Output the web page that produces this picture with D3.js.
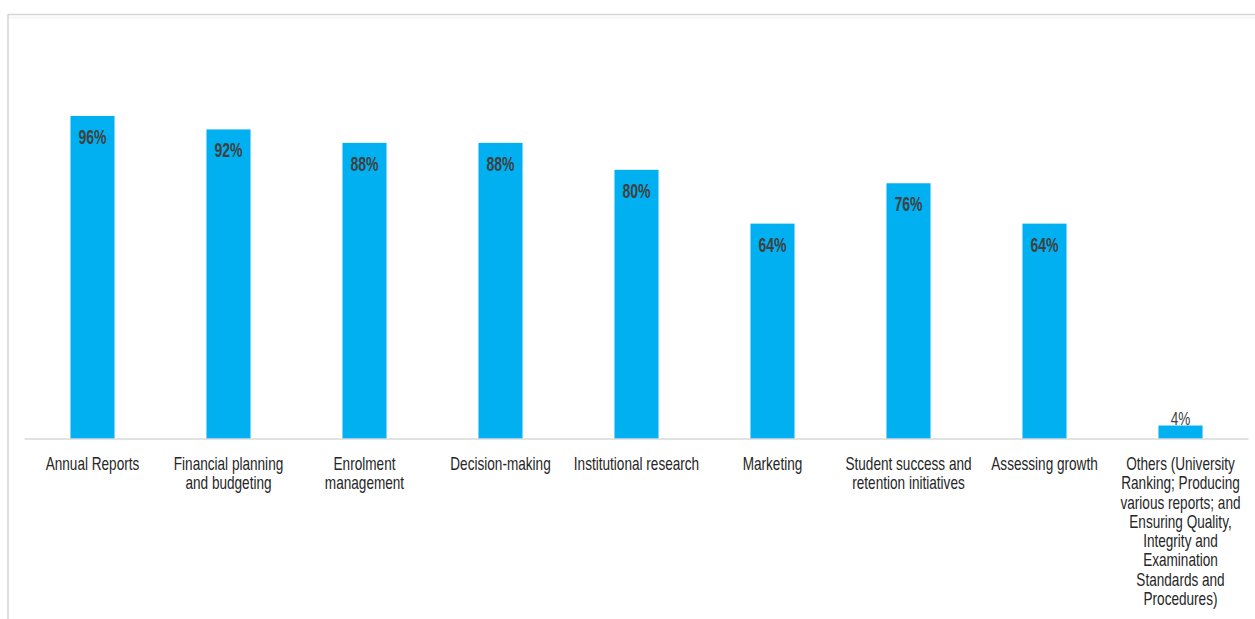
<!DOCTYPE html>
<html>
<head>
<meta charset="utf-8">
<script src="https://cdn.jsdelivr.net/npm/d3@7"></script>
<style>
  body { margin: 0; background: #fff; }
  svg { display: block; }
</style>
</head>
<body>
<div class="canvas"></div>
<script>
// chart data
const categories = [
  'Annual Reports',
  'Financial planning\nand budgeting',
  'Enrolment\nmanagement',
  'Decision-making',
  'Institutional research',
  'Marketing',
  'Student success and\nretention initiatives',
  'Assessing growth',
  'Others (University\nRanking; Producing\nvarious reports; and\nEnsuring Quality,\nIntegrity and\nExamination\nStandards and\nProcedures)'
];
const values = [96, 92, 88, 88, 80, 64, 76, 64, 4];
const valueLabels = ['96%', '92%', '88%', '88%', '80%', '64%', '76%', '64%', '4%'];

// dimensions
const width = 1255;
const height = 619;
const margin = { top: 102.5, left: 24.5, right: 6.5, bottom: 180 };
const graphWidth = width - margin.left - margin.right;
const graphHeight = height - margin.top - margin.bottom;

// no narrow font installed, so squeeze the regular one horizontally
const font = '"Liberation Sans", Arial, sans-serif';

const svg = d3.select('.canvas')
  .append('svg')
  .attr('width', width)
  .attr('height', height);

// outer frame (top + left border)
svg.append('line')
  .attr('x1', 8).attr('x2', width)
  .attr('y1', 14.5).attr('y2', 14.5)
  .attr('stroke', '#d6d6d6')
  .attr('stroke-width', 1.6);
svg.append('line')
  .attr('x1', 8).attr('x2', width)
  .attr('y1', 17.5).attr('y2', 17.5)
  .attr('stroke', '#f6f6f6')
  .attr('stroke-width', 2);
svg.append('line')
  .attr('x1', 8).attr('x2', 8)
  .attr('y1', 14).attr('y2', height)
  .attr('stroke', '#d6d6d6')
  .attr('stroke-width', 1.6);

const graph = svg.append('g')
  .attr('transform', `translate(${margin.left}, ${margin.top})`);

// scales
const x = d3.scaleBand()
  .domain(categories)
  .range([0, graphWidth])
  .paddingInner(0.676)
  .paddingOuter(0.338);
const y = d3.scaleLinear()
  .domain([0, 100])
  .range([graphHeight, 0]);

// bars
graph.selectAll('rect.bar')
  .data(values)
  .enter()
  .append('rect')
  .attr('class', 'bar')
  .attr('x', (d, i) => x(categories[i]))
  .attr('y', d => y(d))
  .attr('width', x.bandwidth())
  .attr('height', d => graphHeight - y(d))
  .attr('fill', '#00b0f0');

// x axis
const xAxis = d3.axisBottom(x).tickSize(0).tickPadding(0).tickFormat('');
const xAxisGroup = graph.append('g')
  .attr('transform', `translate(0, ${graphHeight})`)
  .call(xAxis);
xAxisGroup.select('.domain')
  .attr('stroke', '#d9d9d9')
  .attr('stroke-width', 1.6)
  .attr('d', `M0,0H${graphWidth}`);

// category labels, split on line breaks
xAxisGroup.selectAll('.tick').each(function (d) {
  const t = d3.select(this).append('text')
    .attr('fill', '#262626')
    .attr('text-anchor', 'middle')
    .attr('transform', 'scale(0.755, 1)')
    .style('font-family', font)
    .style('font-size', '18px');
  d.split('\n').forEach((line, i) => {
    t.append('tspan')
      .attr('x', 0)
      .attr('y', 31 + i * 19.3)
      .text(line);
  });
});

// value labels
graph.selectAll('text.value')
  .data(values)
  .enter()
  .append('text')
  .attr('class', 'value')
  .attr('transform', (d, i) => {
    const cx = x(categories[i]) + x.bandwidth() / 2;
    const cy = d > 10 ? y(d) + 28 : y(d) - 0.5;
    const sx = d > 10 ? 0.72 : 0.755;
    return `translate(${cx}, ${cy}) scale(${sx}, 1)`;
  })
  .attr('text-anchor', 'middle')
  .attr('fill', '#404040')
  .style('font-family', font)
  .style('font-size', d => d > 10 ? '19.5px' : '18px')
  .style('font-weight', d => d > 10 ? 'bold' : 'normal')
  .text((d, i) => valueLabels[i]);
</script>
</body>
</html>
